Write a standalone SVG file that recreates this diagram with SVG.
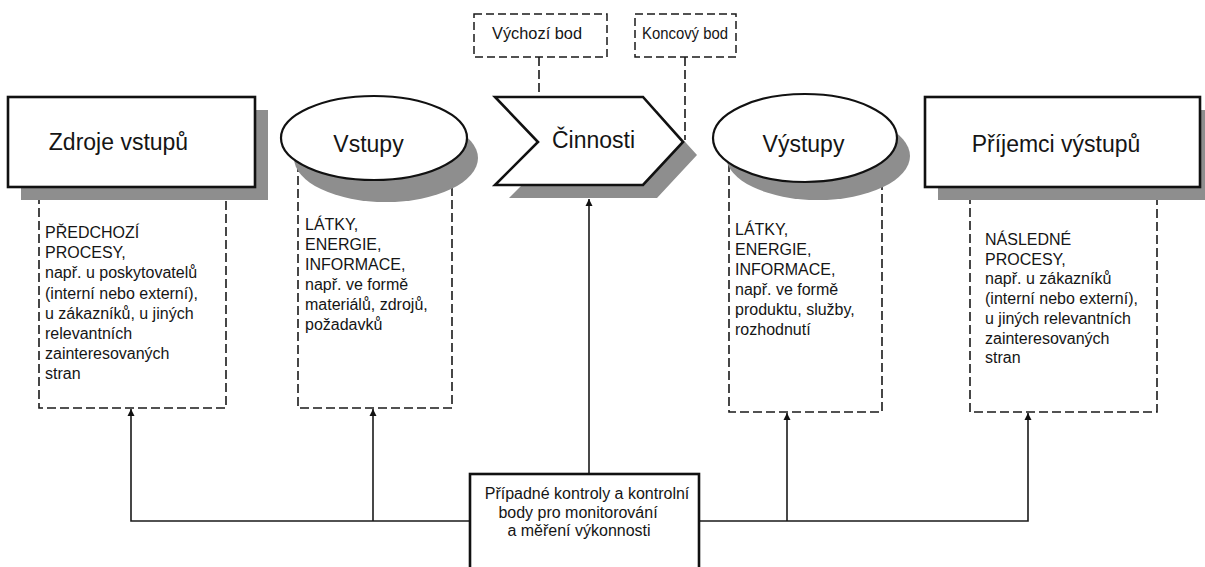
<svg xmlns="http://www.w3.org/2000/svg" width="1205" height="567" viewBox="0 0 1205 567">
  <style>
    .bg { fill: #ffffff; }
    .shadow { fill: #8e8e8e; stroke: none; }
    .node { fill: #ffffff; stroke: #111111; stroke-width: 2.6; }
    .oval { fill: #ffffff; stroke: #111111; stroke-width: 2.2; }
    .dash { fill: none; stroke: #1a1a1a; stroke-width: 1.6; stroke-dasharray: 9 4; }
    .dashbox { fill: #ffffff; stroke: #1a1a1a; stroke-width: 1.5; stroke-dasharray: 8 4; }
    .wire { fill: none; stroke: #1a1a1a; stroke-width: 1.6; }
    .title { font-family: "Liberation Sans", Arial, sans-serif; font-size: 23px; fill: #151515; text-anchor: middle; }
    .body { font-family: "Liberation Sans", Arial, sans-serif; font-size: 16px; fill: #151515; }
    .tag { font-family: "Liberation Sans", Arial, sans-serif; font-size: 17px; fill: #151515; text-anchor: middle; }
    .ctl { font-family: "Liberation Sans", Arial, sans-serif; font-size: 16px; fill: #151515; text-anchor: middle; }
  </style>
  <defs>
    <marker id="arrow" viewBox="0 0 10 10" refX="10" refY="5" markerWidth="7" markerHeight="9" markerUnits="userSpaceOnUse" orient="auto">
      <path d="M0,0 L10,5 L0,10 z" fill="#111111"/>
    </marker>
  </defs>

  <rect class="bg" x="0" y="0" width="1205" height="567"/>

  <!-- dashed detail panels hanging under each node -->
  <g id="panel-sources">
    <path class="dash" d="M39,195 V408 H226 V195"/>
    <text class="body">
      <tspan x="45" y="238">PŘEDCHOZÍ</tspan>
      <tspan x="45" y="258.2">PROCESY,</tspan>
      <tspan x="45" y="278.4">např. u poskytovatelů</tspan>
      <tspan x="45" y="298.6">(interní nebo externí),</tspan>
      <tspan x="45" y="318.8">u zákazníků, u jiných</tspan>
      <tspan x="45" y="339">relevantních</tspan>
      <tspan x="45" y="359.2">zainteresovaných</tspan>
      <tspan x="45" y="379.4">stran</tspan>
    </text>
  </g>
  <g id="panel-inputs">
    <path class="dash" d="M298,150 V408 H452 V150"/>
    <text class="body">
      <tspan x="305" y="230">LÁTKY,</tspan>
      <tspan x="305" y="250">ENERGIE,</tspan>
      <tspan x="305" y="270">INFORMACE,</tspan>
      <tspan x="305" y="290">např. ve formě</tspan>
      <tspan x="305" y="310">materiálů, zdrojů,</tspan>
      <tspan x="305" y="330">požadavků</tspan>
    </text>
  </g>
  <g id="panel-outputs">
    <path class="dash" d="M729,150 V412 H882 V150"/>
    <text class="body">
      <tspan x="735" y="235">LÁTKY,</tspan>
      <tspan x="735" y="255">ENERGIE,</tspan>
      <tspan x="735" y="275">INFORMACE,</tspan>
      <tspan x="735" y="295">např. ve formě</tspan>
      <tspan x="735" y="315">produktu, služby,</tspan>
      <tspan x="735" y="335">rozhodnutí</tspan>
    </text>
  </g>
  <g id="panel-receivers">
    <path class="dash" d="M970,195 V412 H1157 V195"/>
    <text class="body">
      <tspan x="985" y="245">NÁSLEDNÉ</tspan>
      <tspan x="985" y="264.7">PROCESY,</tspan>
      <tspan x="985" y="284.4">např. u zákazníků</tspan>
      <tspan x="985" y="304.1">(interní nebo externí),</tspan>
      <tspan x="985" y="323.8">u jiných relevantních</tspan>
      <tspan x="985" y="343.5">zainteresovaných</tspan>
      <tspan x="985" y="363.2">stran</tspan>
    </text>
  </g>

  <!-- connectors -->
  <g id="connectors">
    <path class="wire" d="M470,521 H131 V409" marker-end="url(#arrow)"/>
    <path class="wire" d="M373,521 V409" marker-end="url(#arrow)"/>
    <path class="wire" d="M700,521 H1028 V413" marker-end="url(#arrow)"/>
    <path class="wire" d="M787,521 V413" marker-end="url(#arrow)"/>
    <path class="wire" d="M589,474 V199" marker-end="url(#arrow)"/>
    <path class="dash" d="M539,57 V140"/>
    <path class="dash" d="M685,57 V140"/>
  </g>

  <!-- main process chain -->
  <g id="node-sources">
    <rect class="shadow" x="21" y="110" width="247" height="90"/>
    <rect class="node" x="8" y="97" width="247" height="90"/>
    <text class="title" x="118.5" y="150">Zdroje vstupů</text>
  </g>
  <g id="node-inputs">
    <ellipse class="shadow" cx="386" cy="158" rx="92" ry="44"/>
    <ellipse class="oval" cx="374" cy="138" rx="93" ry="42"/>
    <text class="title" x="368.5" y="152">Vstupy</text>
  </g>
  <g id="node-activities">
    <polygon class="shadow" points="509,111 657,111 697,155 657,198 509,198 552,155"/>
    <polygon class="node" points="495,97 643,97 683,142 643,185 495,185 538,142"/>
    <text class="title" x="593.5" y="148">Činnosti</text>
  </g>
  <g id="node-outputs">
    <ellipse class="shadow" cx="818" cy="156" rx="92" ry="44"/>
    <ellipse class="oval" cx="805" cy="138" rx="92" ry="44"/>
    <text class="title" x="803.5" y="152">Výstupy</text>
  </g>
  <g id="node-receivers">
    <rect class="shadow" x="938" y="110" width="275" height="90"/>
    <rect class="node" x="925" y="97" width="275" height="90"/>
    <text class="title" x="1056" y="152">Příjemci výstupů</text>
  </g>

  <!-- start / end markers of the activity -->
  <g id="node-start">
    <rect class="dashbox" x="474" y="14" width="133" height="43"/>
    <text class="tag" x="537" y="39" textLength="90" lengthAdjust="spacingAndGlyphs">Výchozí bod</text>
  </g>
  <g id="node-end">
    <rect class="dashbox" x="635" y="14" width="101" height="43"/>
    <text class="tag" x="685" y="39" textLength="86" lengthAdjust="spacingAndGlyphs">Koncový bod</text>
  </g>

  <!-- monitoring and measurement box -->
  <g id="node-control">
    <rect class="node" x="470" y="474" width="229" height="110"/>
    <text class="ctl" x="587" y="499">Případné kontroly a kontrolní</text>
    <text class="ctl" x="578" y="517.5">body pro monitorování</text>
    <text class="ctl" x="579" y="536">a měření výkonnosti</text>
  </g>
</svg>
